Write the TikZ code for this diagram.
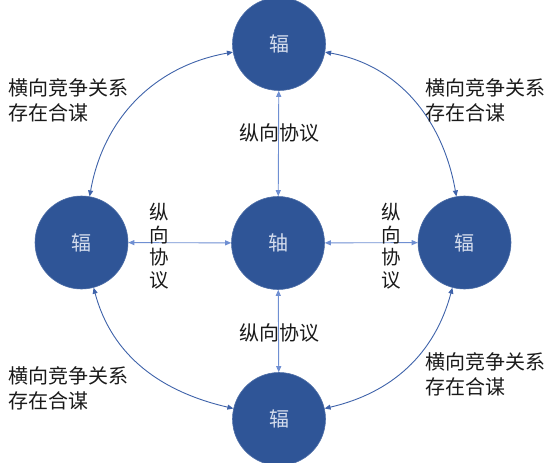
\documentclass[tikz,border=0pt]{standalone}
\usepackage{fontspec}
\setmainfont{Noto Sans CJK SC}
\usetikzlibrary{arrows.meta}
\definecolor{hubblue}{HTML}{2F5597}
\definecolor{linkblue}{HTML}{6F8FD2}
\definecolor{arcblue}{HTML}{3F63AA}
\definecolor{hubtext}{HTML}{D6DEEE}
\definecolor{labeltext}{HTML}{1A1A1A}
\begin{document}
\begin{tikzpicture}[x=1pt,y=1pt,
  hub/.style={circle,fill=hubblue,draw=hubblue!85!white,line width=0.6pt,minimum size=93pt,inner sep=0pt,
    text=hubtext,font=\fontsize{20}{24}\selectfont},
  straightlink/.style={draw=linkblue,line width=0.9pt,{Triangle[length=6pt,width=5pt]}-{Triangle[length=6pt,width=5pt]}},
  arclink/.style={draw=arcblue,line width=0.9pt,{Triangle[length=6pt,width=5pt]}-{Triangle[length=6pt,width=5pt]}},
  lbl/.style={text=labeltext,font=\fontsize{20}{25}\selectfont,inner sep=0pt},
  vlbl/.style={text=labeltext,font=\fontsize{19.5}{22.5}\selectfont,inner sep=0pt,align=center}
]
\useasboundingbox (0,0) rectangle (560,-463);
\node[hub] (top) at (279,-44) {辐};
\node[hub] (center) at (278,-243) {轴};
\node[hub] (left) at (81.5,-242.5) {辐};
\node[hub] (right) at (464.5,-242.5) {辐};
\node[hub] (bottom) at (279,-419) {辐};

\draw[straightlink] (top) -- (center);
\draw[straightlink] (center) -- (bottom);
\draw[straightlink] (left) -- (center);
\draw[straightlink] (center) -- (right);

\draw[arclink] (top) to[out=190,in=80] (left);
\draw[arclink] (top) to[out=-10,in=100] (right);
\draw[arclink] (left) to[out=285,in=167] (bottom);
\draw[arclink] (right) to[out=255,in=13] (bottom);

\node[lbl,anchor=west,align=left] (tl) at (8,-100) {横向竞争关系\\存在合谋};
\node[lbl,anchor=west,align=left] (tr) at (425,-100) {横向竞争关系\\存在合谋};
\node[lbl,anchor=west,align=left] (bl) at (8,-388) {横向竞争关系\\存在合谋};
\node[lbl,anchor=west,align=left] (br) at (425,-374) {横向竞争关系\\存在合谋};

\node[lbl] (vt) at (279,-133) {纵向协议};
\node[lbl] (vb) at (279,-333) {纵向协议};
\node[vlbl] (vl) at (159,-246) {纵\\向\\协\\议};
\node[vlbl] (vr) at (391,-246) {纵\\向\\协\\议};
\end{tikzpicture}
\end{document}
